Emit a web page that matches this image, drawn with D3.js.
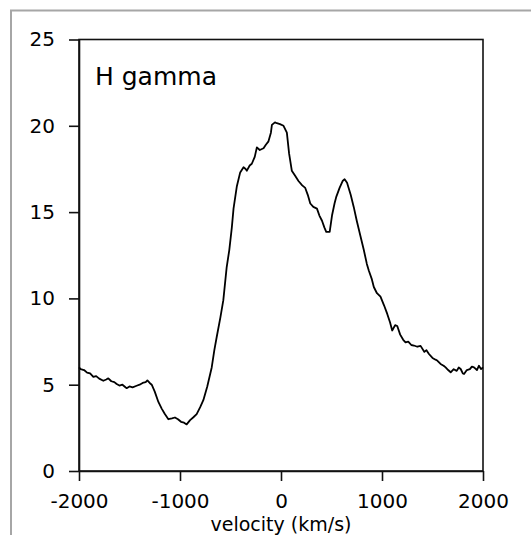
<!DOCTYPE html>
<html>
<head>
<meta charset="utf-8">
<script src="https://cdn.jsdelivr.net/npm/d3@7"></script>
<style>
  html, body { margin: 0; padding: 0; background: #fff; }
  svg { display: block; }
</style>
</head>
<body>
<svg id="chart" width="531" height="535"></svg>
<script>
// ---- data ----
const title = "H gamma";
const xTitle = "velocity (km/s)";
const xTicks = [-2000, -1000, 0, 1000, 2000];
const yTicks = [0, 5, 10, 15, 20, 25];
const velocity = [
  -2000,-1983,-1950,-1920,-1890,-1858,-1830,-1800,-1759,-1730,-1710,-1680,-1650,-1627,-1600,-1570,-1540,-1528,-1500,-1470,
  -1429,-1400,-1370,-1340,-1323,-1300,-1280,-1250,-1214,-1180,-1150,-1115,-1080,-1050,-1020,-990,-960,-934,-900,-870,
  -835,-800,-769,-730,-686,-660,-637,-600,-571,-538,-512,-487,-470,-437,-404,-371,-350,-338,-310,-289,
  -260,-239,-210,-173,-150,-124,-100,-90,-60,-41,-10,25,58,80,107,140,173,210,240,265,
  290,320,356,380,406,430,448,482,505,530,548,580,610,630,654,690,720,750,787,820,
  850,870,900,919,950,985,1020,1052,1080,1101,1130,1151,1180,1210,1233,1260,1290,1316,1350,1382,
  1420,1440,1465,1500,1530,1547,1580,1610,1630,1655,1680,1710,1740,1760,1779,1800,1812,1840,1870,1890,
  1911,1940,1960,1980,2000
];
const flux = [
  6.0,5.9,5.85,5.7,5.65,5.45,5.5,5.35,5.23,5.3,5.37,5.2,5.15,5.04,4.95,5.0,4.85,4.8,4.9,4.85,
  4.94,5.0,5.1,5.15,5.25,5.1,5.0,4.6,4.0,3.6,3.3,3.0,3.05,3.1,3.0,2.85,2.8,2.7,2.95,3.1,
  3.3,3.7,4.1,4.9,6.0,7.0,7.75,8.9,9.9,11.8,12.8,14.1,15.2,16.5,17.3,17.6,17.5,17.4,17.7,17.8,
  18.2,18.75,18.6,18.7,18.9,19.1,19.6,20.05,20.2,20.15,20.1,20.0,19.6,18.4,17.4,17.1,16.8,16.55,16.4,16.0,
  15.5,15.3,15.2,14.8,14.5,14.1,13.85,13.85,14.8,15.5,15.9,16.4,16.8,16.9,16.7,16.0,15.3,14.5,13.6,12.8,
  12.0,11.6,11.1,10.66,10.3,10.1,9.6,9.1,8.6,8.14,8.45,8.4,7.9,7.6,7.45,7.5,7.3,7.27,7.2,7.25,
  6.9,7.0,6.78,6.55,6.45,6.4,6.2,6.1,6.0,5.85,5.72,5.9,5.8,6.0,5.91,5.65,5.62,5.85,5.9,6.05,
  6.0,5.85,6.1,5.9,6.0
];

// ---- layout ----
const svg = d3.select("#chart");
const plot = { left: 79, right: 483, top: 39.5, bottom: 471 };
const font = "'DejaVu Sans', sans-serif";

// outer chart frame (extends beyond the right/bottom edges)
svg.append("rect")
  .attr("x", 11).attr("y", 10.5)
  .attr("width", 600).attr("height", 600)
  .attr("fill", "none").attr("stroke", "#a6a6a6").attr("stroke-width", 2);

const x = d3.scaleLinear().domain([-2000, 2000]).range([plot.left, plot.right]);
const y = d3.scaleLinear().domain([0, 25]).range([plot.bottom, plot.top]);

// plot box
svg.append("rect")
  .attr("x", plot.left).attr("y", plot.top)
  .attr("width", plot.right - plot.left).attr("height", plot.bottom - plot.top)
  .attr("fill", "none").attr("stroke", "#111").attr("stroke-width", 1.6);

// axes
const yAxis = svg.append("g")
  .attr("transform", `translate(${plot.left},0)`)
  .call(d3.axisLeft(y).tickValues(yTicks).tickFormat(d => String(d))
    .tickSizeInner(10).tickSizeOuter(0).tickPadding(14));
const xAxis = svg.append("g")
  .attr("transform", `translate(0,${plot.bottom})`)
  .call(d3.axisBottom(x).tickValues(xTicks).tickFormat(d => String(d))
    .tickSizeInner(10).tickSizeOuter(0).tickPadding(13));

[yAxis, xAxis].forEach(g => {
  g.select(".domain").attr("stroke", "#111").attr("stroke-width", 1.6);
  g.selectAll(".tick line").attr("stroke", "#111").attr("stroke-width", 1.6);
  g.selectAll(".tick text").attr("fill", "#000")
    .style("font-family", font).style("font-size", "20px");
});

// data line
const line = d3.line().x((d, i) => x(velocity[i])).y(d => y(d));
svg.append("path")
  .datum(flux)
  .attr("d", line)
  .attr("fill", "none").attr("stroke", "#000").attr("stroke-width", 1.8)
  .attr("stroke-linejoin", "round");

// title inside plot
svg.append("text")
  .attr("x", 95).attr("y", 85)
  .style("font-family", font).style("font-size", "25px")
  .attr("fill", "#000").text(title);

// x-axis title
svg.append("text")
  .attr("x", (plot.left + plot.right) / 2).attr("y", 531)
  .attr("text-anchor", "middle")
  .style("font-family", font).style("font-size", "19px")
  .attr("fill", "#000").text(xTitle);
</script>
</body>
</html>
